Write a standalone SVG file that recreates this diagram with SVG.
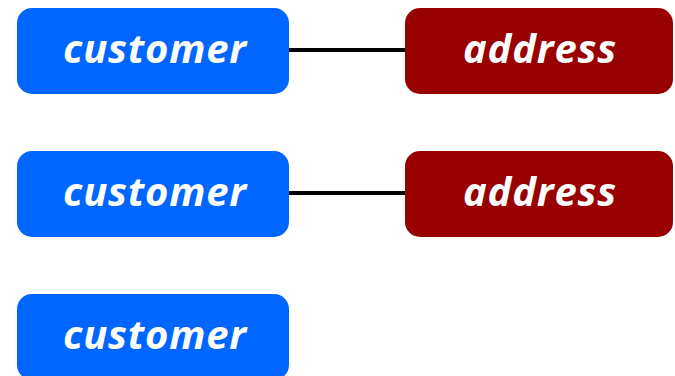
<svg xmlns="http://www.w3.org/2000/svg" width="675" height="376" viewBox="0 0 675 376">
<style>
.c{fill:#0066ff}
.a{fill:#990000}
.t{fill:#fff;font-family:"Open Sans","DejaVu Sans",sans-serif;font-weight:bold;font-style:italic;font-size:40px;letter-spacing:0.8px;text-anchor:middle}
.l{stroke:#000;stroke-width:4;fill:none}
</style>
<rect width="675" height="376" fill="#fff"/>
<g id="connectors">
<line class="l" x1="289" y1="50" x2="406" y2="50"/>
<line class="l" x1="289" y1="193" x2="406" y2="193"/>
</g>
<g id="customer1"><rect class="c" x="17" y="8" width="272" height="86" rx="15"/><text class="t" x="155" y="63">customer</text></g>
<g id="address1"><rect class="a" x="405" y="8" width="268" height="86" rx="15"/><text class="t" x="540" y="63">address</text></g>
<g id="customer2"><rect class="c" x="17" y="151" width="272" height="86" rx="15"/><text class="t" x="155" y="206">customer</text></g>
<g id="address2"><rect class="a" x="405" y="151" width="268" height="86" rx="15"/><text class="t" x="540" y="206">address</text></g>
<g id="customer3"><rect class="c" x="17" y="294" width="272" height="86" rx="15"/><text class="t" x="155" y="349">customer</text></g>
</svg>
